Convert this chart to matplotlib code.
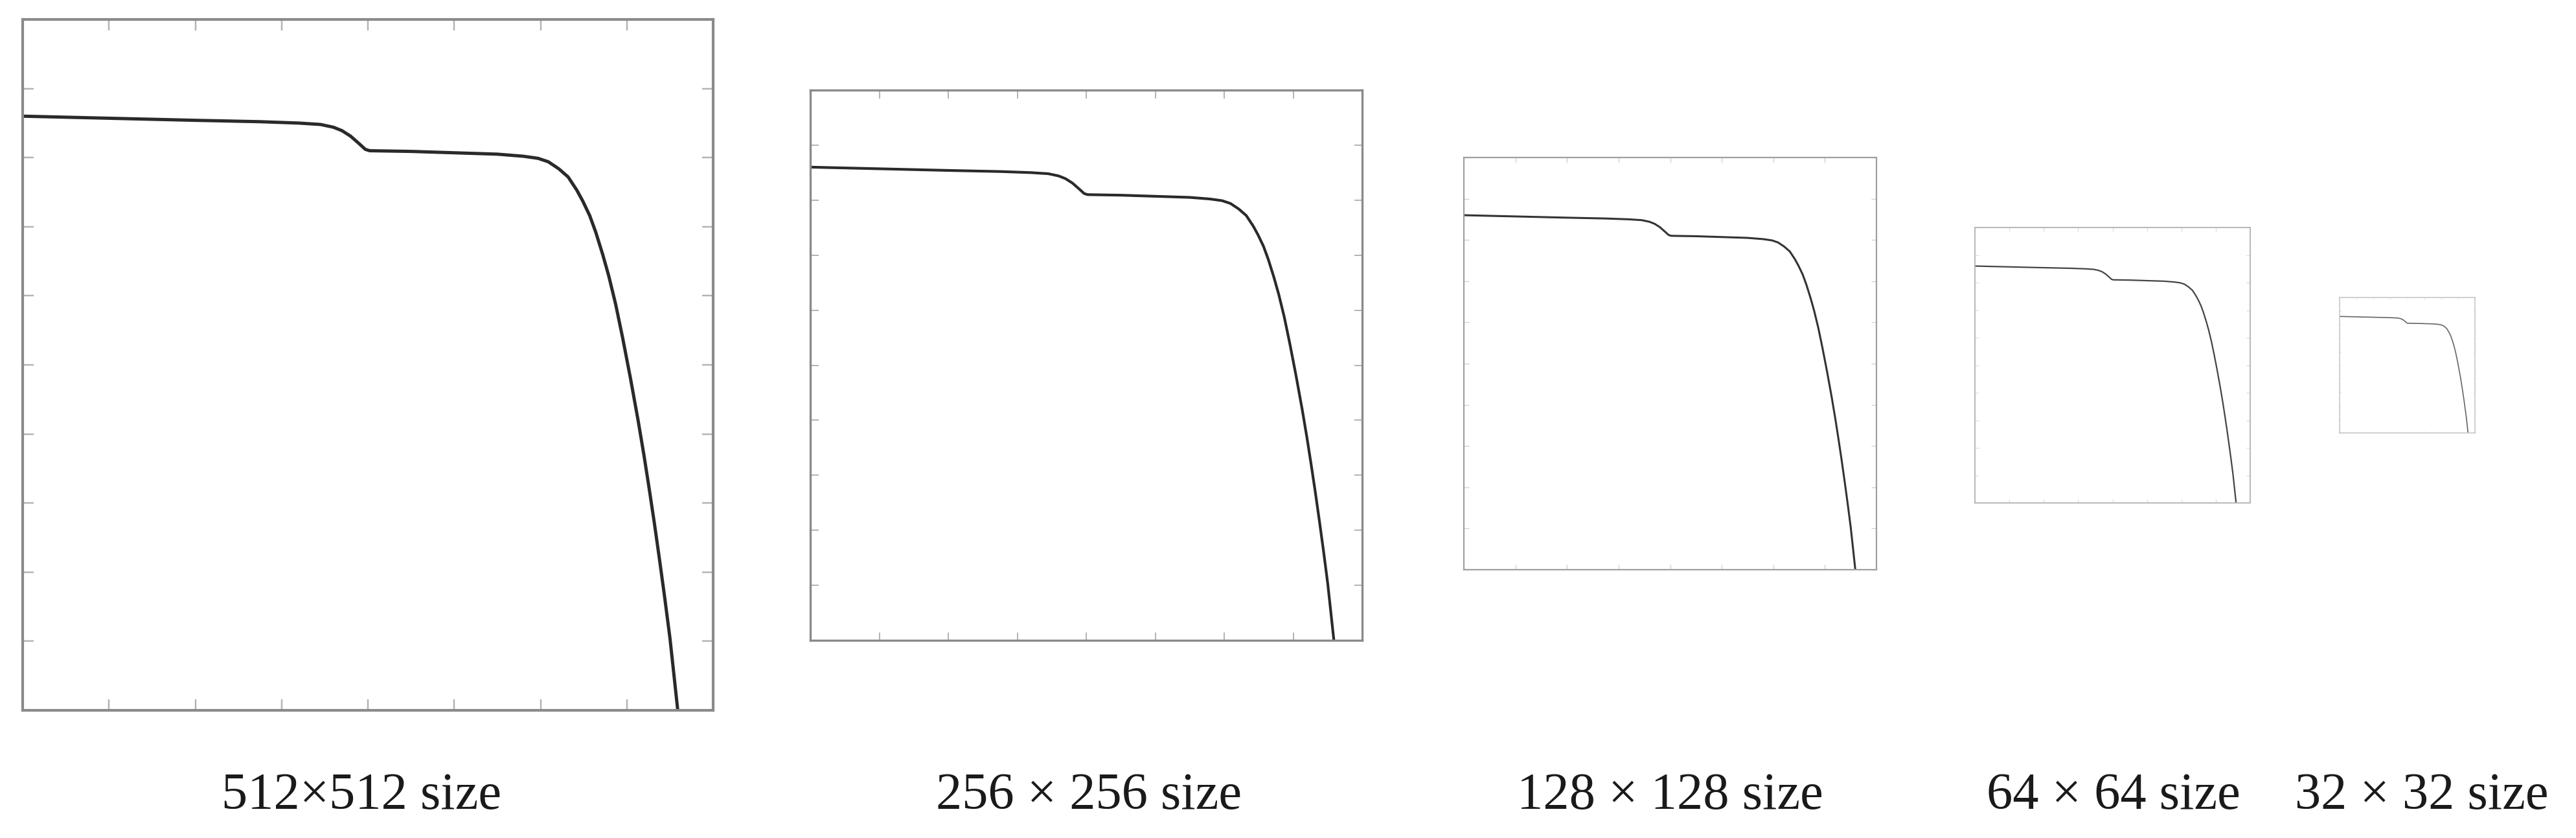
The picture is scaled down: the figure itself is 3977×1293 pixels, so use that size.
"""same I-V style curve drawn at five sizes, side by side."""

import matplotlib
matplotlib.use('Agg')
import matplotlib.pyplot as plt

# curve (x in 0..8 ticks, y in 0..10 ticks)
curve_x = [0.0, 1.0, 2.0, 2.75, 3.2, 3.45, 3.6, 3.7, 3.8, 3.9, 3.97, 4.02,
           4.5, 5.0, 5.5, 5.8, 5.97, 6.09, 6.21, 6.32, 6.42, 6.49, 6.57, 6.64,
           6.72, 6.79, 6.87, 6.95, 7.04, 7.13, 7.20, 7.26, 7.32, 7.38, 7.44,
           7.50, 7.54, 7.59]
curve_y = [8.60, 8.57, 8.54, 8.52, 8.50, 8.48, 8.44, 8.39, 8.31, 8.20, 8.12, 8.10,
           8.09, 8.07, 8.05, 8.02, 7.99, 7.94, 7.84, 7.72, 7.53, 7.37, 7.16, 6.92,
           6.60, 6.29, 5.88, 5.40, 4.82, 4.20, 3.68, 3.20, 2.70, 2.17, 1.62,
           1.04, 0.58, 0.0]

x_ticks = list(range(0, 9))
y_ticks = list(range(0, 11))

labels = ["512×512 size", "256 × 256 size", "128 × 128 size",
          "64 × 64 size", "32 × 32 size"]

# layout, in pixels of the 3977x1293 canvas: left, top, right, bottom
W, H = 3977, 1293
boxes = [(35, 30, 1101, 1096),
         (1251, 139, 2103, 988),
         (2260, 243, 2897, 879),
         (3049, 351, 3474, 776),
         (3612, 459, 3821, 668)]
label_cx = [558, 1681, 2578, 3263, 3739]

# per panel styling, shrinking with the panel
spine_lw = [3.0, 2.4, 1.6, 1.4, 1.2]
spine_col = ['#8a8a8a', '#8a8a8a', '#a0a0a0', '#b8b8b8', '#c8c8c8']
line_lw = [3.6, 3.0, 2.2, 1.6, 1.2]
line_col = ['#2a2a2a', '#2a2a2a', '#333333', '#444444', '#666666']
tick_len = [12, 9, 6, 4, 2]
tick_col = ['#b4b4b4', '#b4b4b4', '#d0d0d0', '#dadada', '#e0e0e0']

fig = plt.figure(figsize=(W / 100, H / 100), dpi=100)

for i, (l, t, r, b) in enumerate(boxes):
    ax = fig.add_axes([l / W, 1 - b / H, (r - l) / W, (b - t) / H])
    ax.plot(curve_x, curve_y, color=line_col[i], lw=line_lw[i],
            solid_joinstyle='round', solid_capstyle='butt')
    ax.set_xlim(0, 8)
    ax.set_ylim(0, 10)
    ax.set_xticks(x_ticks)
    ax.set_yticks(y_ticks)
    ax.tick_params(direction='in', length=tick_len[i], width=spine_lw[i] * 0.6,
                   color=tick_col[i], top=True, right=True,
                   labelleft=False, labelbottom=False)
    for s in ax.spines.values():
        s.set_linewidth(spine_lw[i])
        s.set_color(spine_col[i])

    fig.text(label_cx[i] / W, 1 - 1248 / H, labels[i], ha='center', va='baseline',
             fontsize=58, family=['Liberation Serif', 'DejaVu Serif'], color='#1a1a1a')

fig.savefig("out.png", dpi=100)
